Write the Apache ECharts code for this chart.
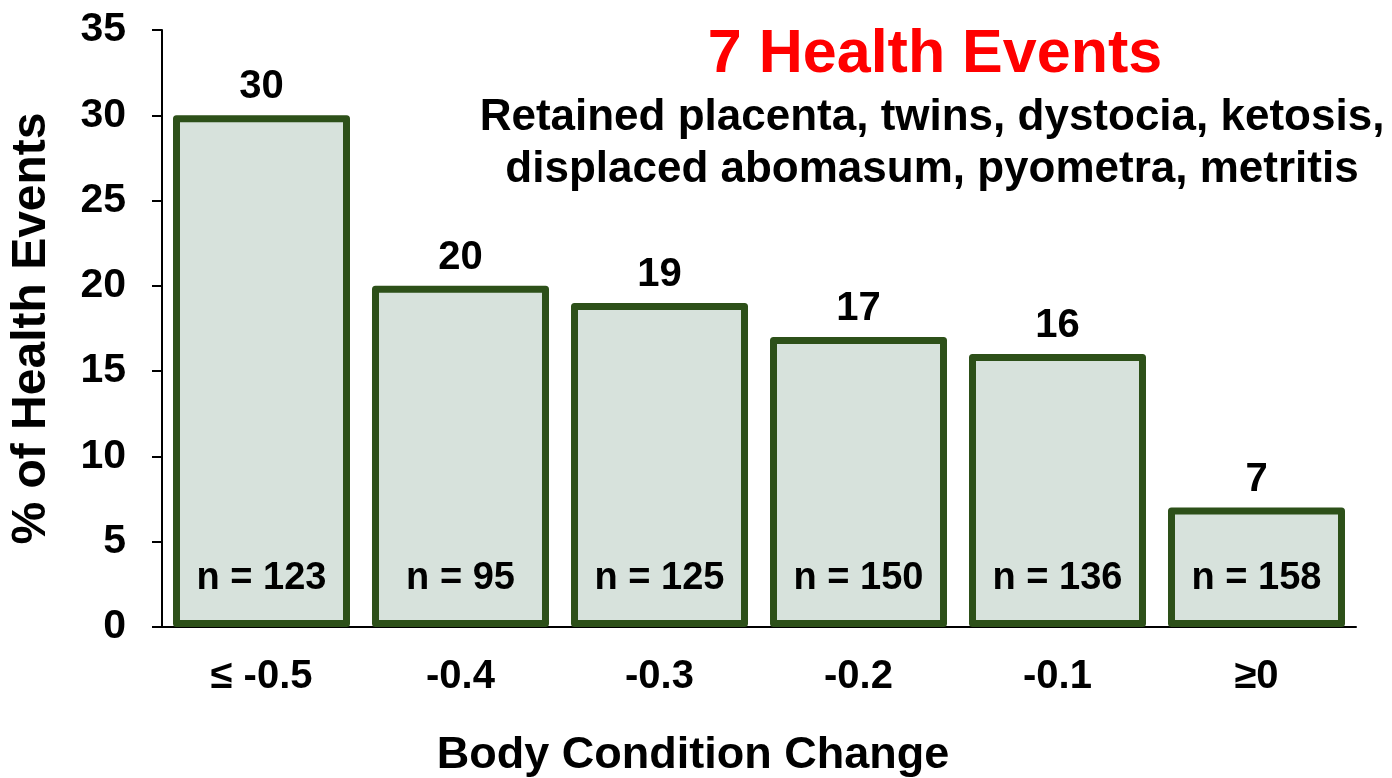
<!DOCTYPE html>
<html lang="en">

<head>
    <meta charset="UTF-8">
    <title>Health Events</title>
    <script src="https://cdn.jsdelivr.net/npm/echarts@6/dist/echarts.min.js"></script>
    <style>
        html, body {
            margin: 0;
            padding: 0;
            background: #fff;
        }

        #chart {
            width: 1392px;
            height: 778px;
        }
    </style>
</head>

<body>
    <div id="chart"></div>
    <script>
        var categories = ['≤ -0.5', '-0.4', '-0.3', '-0.2', '-0.1', '≥0'];//体况变化
        var percents = [30, 20, 19, 17, 16, 7];//健康事件百分比
        var counts = [123, 95, 125, 150, 136, 158];//每组头数
        var yTicks = [0, 35, 5];//min, max, interval

        var font = 'Liberation Sans, Arial, sans-serif';
        var green = '#2d5019';
        var fill = '#d7e2dc';

        var myChart = echarts.init(document.getElementById('chart'));
        myChart.setOption({
            animation: false,
            title: [
                {
                    text: '7 Health Events',
                    left: 930,
                    top: 20,
                    textAlign: 'center',
                    textStyle: {
                        color: '#ff0000',
                        fontFamily: font,
                        fontWeight: 'bold',
                        fontSize: 61
                    }
                },
                {
                    text: 'Retained placenta, twins, dystocia, ketosis,\ndisplaced abomasum, pyometra, metritis',
                    left: 927,
                    top: 87,
                    textAlign: 'center',
                    textStyle: {
                        color: '#000',
                        fontFamily: font,
                        fontWeight: 'bold',
                        fontSize: 44,
                        lineHeight: 52
                    }
                },
                {
                    text: 'Body Condition Change',
                    left: 688,
                    top: 728,
                    textAlign: 'center',
                    textStyle: {
                        color: '#000',
                        fontFamily: font,
                        fontWeight: 'bold',
                        fontSize: 45
                    }
                }
            ],
            grid: {
                left: 162,
                right: 36,
                top: 30,
                bottom: 151
            },
            xAxis: {
                type: 'category',
                data: categories,
                axisLine: {
                    lineStyle: { color: '#000', width: 2 }
                },
                axisTick: {
                    length: 10,
                    lineStyle: { color: '#000', width: 2 }
                },
                axisLabel: {
                    color: '#000',
                    fontFamily: font,
                    fontWeight: 'bold',
                    fontSize: 40,
                    margin: 30
                }
            },
            yAxis: {
                type: 'value',
                min: yTicks[0],
                max: yTicks[1],
                interval: yTicks[2],
                name: '% of Health Events',
                nameLocation: 'middle',
                nameGap: 106,
                nameTextStyle: {
                    color: '#000',
                    fontFamily: font,
                    fontWeight: 'bold',
                    fontSize: 48
                },
                splitLine: { show: false },
                axisLine: {
                    show: true,
                    lineStyle: { color: '#000', width: 2 }
                },
                axisTick: {
                    show: true,
                    length: 10,
                    lineStyle: { color: '#000', width: 2 }
                },
                axisLabel: {
                    color: '#000',
                    fontFamily: font,
                    fontWeight: 'bold',
                    fontSize: 41,
                    margin: 36
                }
            },
            series: [
                {
                    type: 'bar',
                    data: percents,
                    barWidth: 177,
                    z: 3,
                    itemStyle: {
                        color: fill,
                        borderColor: green,
                        borderWidth: 7,
                        borderJoin: 'round'
                    },
                    label: {
                        show: true,
                        position: 'top',
                        distance: 8,
                        color: '#000',
                        fontFamily: font,
                        fontWeight: 'bold',
                        fontSize: 40
                    }
                },
                {
                    // 透明的覆盖柱，只用来放 n = 标签
                    type: 'bar',
                    data: percents,
                    barWidth: 177,
                    barGap: '-100%',
                    z: 4,
                    silent: true,
                    itemStyle: {
                        color: 'rgba(0,0,0,0)'
                    },
                    label: {
                        show: true,
                        position: 'insideBottom',
                        distance: 29,
                        color: '#000',
                        fontFamily: font,
                        fontWeight: 'bold',
                        fontSize: 38,
                        formatter: function (p) {
                            return 'n = ' + counts[p.dataIndex];
                        }
                    }
                }
            ]
        });
    </script>
</body>

</html>
